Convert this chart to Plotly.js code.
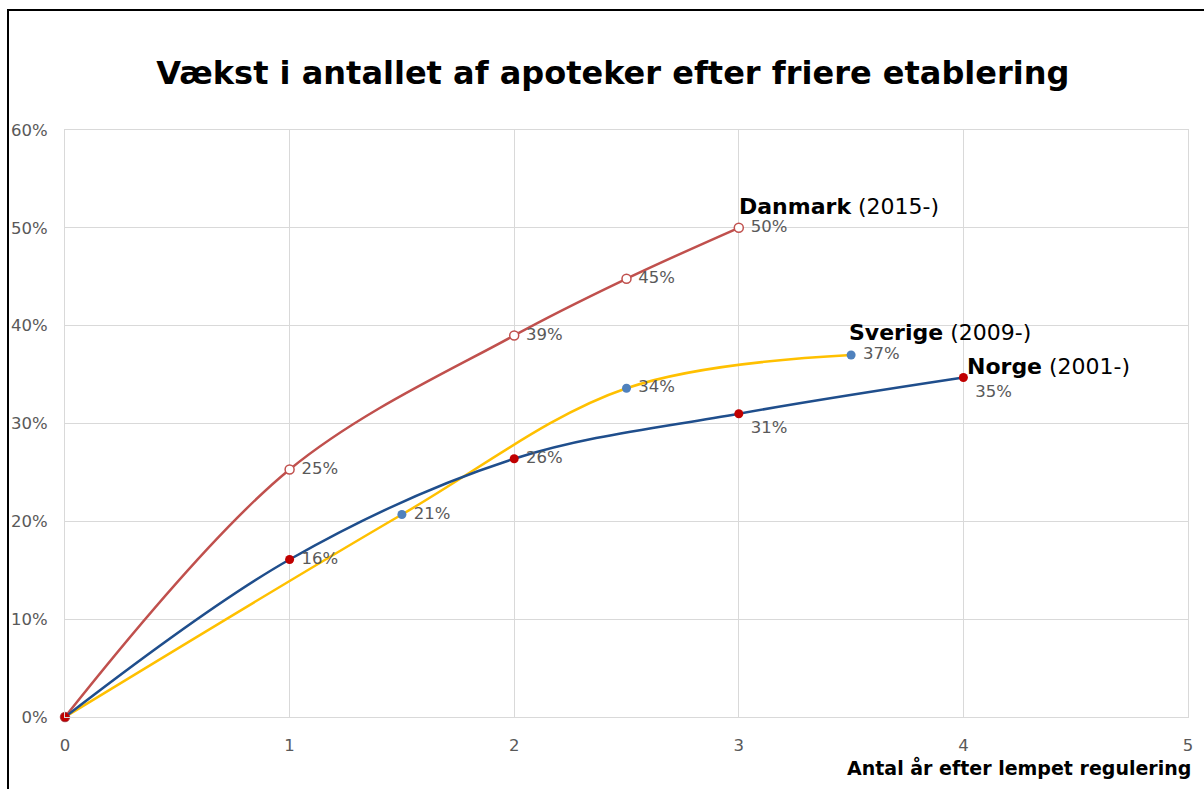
<!DOCTYPE html>
<html>
<head>
<meta charset="utf-8">
<script src="https://cdn.plot.ly/plotly-3.0.1.min.js"></script>
<style>
  html, body { margin: 0; padding: 0; background: #fff; }
  #wrap { position: relative; width: 1204px; height: 789px; overflow: hidden; }
  #chart { position: absolute; left: 0; top: 0; width: 1204px; height: 789px; }
  #frame { position: absolute; left: 7px; top: 9px; width: 1300px; height: 900px;
           border-left: 2px solid #000; border-top: 2px solid #000; pointer-events: none; }
</style>
</head>
<body>
<div id="wrap">
  <div id="chart"></div>
  <div id="frame"></div>
</div>
<script>
// ---- data ----
const chartTitle = "Vækst i antallet af apoteker efter friere etablering";
const xAxisTitle = "Antal år efter lempet regulering";

const danmarkX = [0, 1, 2, 2.5, 3];
const danmarkY = [0, 25.3, 39.0, 44.8, 50.0];

const sverigeX = [0, 1.5, 2.5, 3.5];
const sverigeY = [0, 20.7, 33.6, 37.0];

const norgeX = [0, 1, 2, 3, 4];
const norgeY = [0, 16.1, 26.4, 31.0, 34.7];

const seriesNames = ["Danmark", "Sverige", "Norge"];
const seriesPeriods = ["(2015-)", "(2009-)", "(2001-)"];

const xTicks = [0, 1, 2, 3, 4, 5];
const yTicks = [0, 10, 20, 30, 40, 50, 60];
const yTickLabels = ["0%", "10%", "20%", "30%", "40%", "50%", "60%"];

// ---- styling ----
const FONT = "DejaVu Sans, Verdana, sans-serif";
const labelFont = { family: FONT, size: 16.5, color: "#595959" };
const nameShifts = [ { x: -2, y: 21 }, { x: -4, y: 23 }, { x: 2, y: 11 } ];

// ---- helpers ----
const pct = arr => arr.map((v, i) => i === 0 ? "" : "\u00a0" + Math.round(v) + "%");

const traces = [
  {
    x: danmarkX, y: danmarkY, name: seriesNames[0],
    mode: "lines+markers+text",
    line: { color: "#c0504d", width: 2.5, shape: "spline", smoothing: 1 },
    marker: { size: 9, color: "#ffffff", line: { color: "#c0504d", width: 1.5 } },
    text: pct(danmarkY),
    textposition: "middle right",
    textfont: labelFont,
    cliponaxis: false
  },
  {
    x: sverigeX, y: sverigeY, name: seriesNames[1],
    mode: "lines+markers+text",
    line: { color: "#ffc000", width: 2.5, shape: "spline", smoothing: 1 },
    marker: { size: 9, color: "#4f81bd" },
    text: pct(sverigeY),
    textposition: "middle right",
    textfont: labelFont,
    cliponaxis: false
  },
  {
    x: norgeX, y: norgeY, name: seriesNames[2],
    mode: "lines+markers+text",
    line: { color: "#1f4e8c", width: 2.5, shape: "spline", smoothing: 1 },
    marker: { size: 9, color: "#c00000" },
    text: pct(norgeY),
    textposition: ["middle right", "middle right", "middle right", "bottom right", "bottom right"],
    textfont: labelFont,
    cliponaxis: false
  }
];

const lastOf = a => a[a.length - 1];
const seriesEnds = [
  [lastOf(danmarkX), lastOf(danmarkY)],
  [lastOf(sverigeX), lastOf(sverigeY)],
  [lastOf(norgeX), lastOf(norgeY)]
];

const nameAnnotations = seriesNames.map((n, i) => ({
  x: seriesEnds[i][0], y: seriesEnds[i][1],
  xref: "x", yref: "y",
  text: "<b>" + n + "</b> " + seriesPeriods[i],
  showarrow: false,
  xanchor: "left", yanchor: "middle",
  xshift: nameShifts[i].x, yshift: nameShifts[i].y,
  font: { family: FONT, size: 22, color: "#000" }
}));

const layout = {
  width: 1204, height: 789,
  paper_bgcolor: "rgba(0,0,0,0)",
  plot_bgcolor: "#ffffff",
  margin: { l: 65, r: 16, t: 130, b: 72 },
  showlegend: false,
  title: {
    text: "<b>" + chartTitle + "</b>",
    x: 0.509, xanchor: "center",
    y: 0.908, yanchor: "middle",
    font: { family: FONT, size: 32, color: "#000" }
  },
  xaxis: {
    range: [0, 5],
    tickvals: xTicks,
    ticktext: xTicks.map(String),
    showgrid: true, gridcolor: "#d9d9d9", gridwidth: 1,
    zeroline: false,
    showline: true, linecolor: "#d9d9d9", linewidth: 1, mirror: true,
    ticks: "", ticklabelstandoff: 13,
    tickfont: { family: FONT, size: 16.5, color: "#595959" }
  },
  yaxis: {
    range: [0, 60],
    tickvals: yTicks,
    ticktext: yTickLabels,
    showgrid: true, gridcolor: "#d9d9d9", gridwidth: 1,
    zeroline: false,
    showline: true, linecolor: "#d9d9d9", linewidth: 1, mirror: true,
    ticks: "", ticklabelstandoff: 13,
    tickfont: { family: FONT, size: 16.5, color: "#595959" }
  },
  annotations: nameAnnotations.concat([{
    x: 1, y: 0, xref: "paper", yref: "paper",
    text: "<b>" + xAxisTitle + "</b>",
    showarrow: false,
    xanchor: "right", yanchor: "middle",
    xshift: 5, yshift: -50,
    font: { family: FONT, size: 19, color: "#000" }
  }])
};

Plotly.newPlot("chart", traces, layout, { displayModeBar: false, staticPlot: true });
</script>
</body>
</html>
